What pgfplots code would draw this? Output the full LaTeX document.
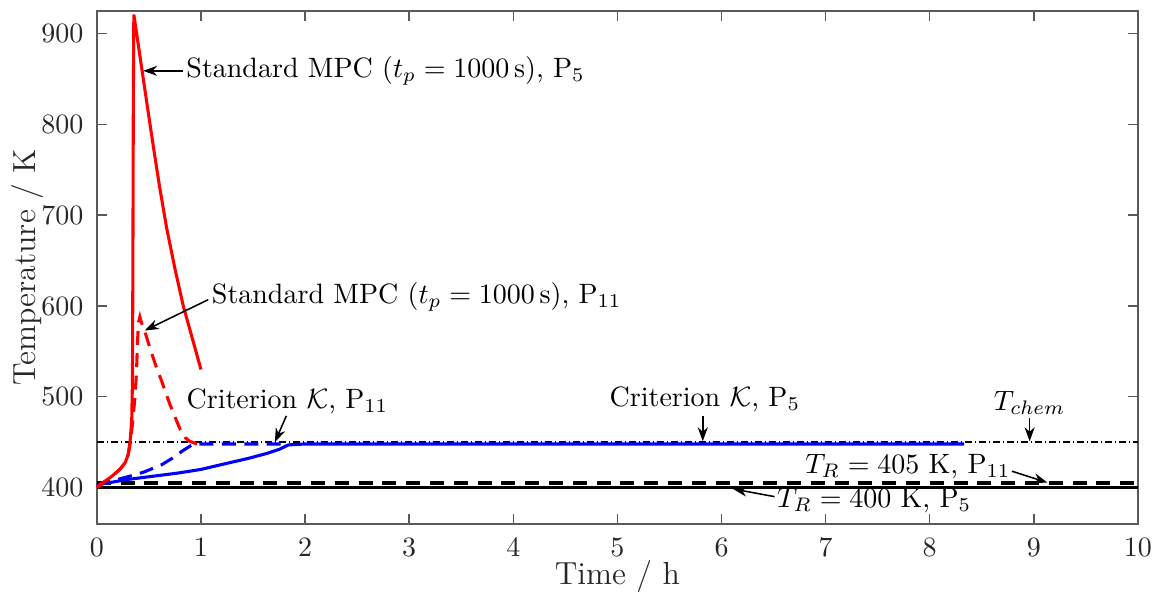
\documentclass[border=0pt]{standalone}
\usepackage{pgfplots}
\pgfplotsset{compat=1.18}
\usetikzlibrary{arrows.meta}

\tikzset{ann/.style={-{Stealth[length=5pt,width=3.6pt,inset=1.6pt]}, line width=0.55pt, black}}

\begin{document}
\begin{tikzpicture}
\begin{axis}[
  scale only axis,
  width=371.8pt, height=183.2pt,
  xmin=0, xmax=10, ymin=360, ymax=925,
  xtick={0,1,...,10},
  ytick={400,500,...,900},
  tick align=inside,
  major tick length=3.5pt,
  axis line style={black!65, line width=0.5pt},
  tick style={black!65, line width=0.5pt},
  tick label style={font=\fontsize{10.3}{12}\selectfont, text=black!85},
  xticklabel style={yshift=-1.5pt},
  yticklabel style={xshift=-1.3pt},
  xlabel={Time / h},
  ylabel={Temperature / K},
  every axis x label/.style={at={(axis description cs:0.5,-0.102)}, anchor=center,
      font=\fontsize{11.4}{13}\selectfont, text=black!85},
  every axis y label/.style={at={(axis description cs:-0.067,0.5)}, rotate=90, anchor=center,
      font=\fontsize{11.4}{13}\selectfont, text=black!85},
  clip=false,
]
%% reference temperatures
\addplot[black, line width=1.1pt] coordinates {(0,400) (10,400)};
\addplot[black, line width=1.1pt, dash pattern=on 5pt off 3.5pt] coordinates {(0,405) (10,405)};
\addplot[black, line width=0.5pt, dash pattern=on 2.5pt off 1pt on 0.5pt off 1pt] coordinates {(0,450) (10,450)};

%% criterion K, P11 (dashed) and P5 (solid)
\addplot[blue, line width=1.1pt, dash pattern=on 5pt off 3pt] coordinates {
  (0,402) (0.1,406) (0.3,412) (0.45,417) (0.62,425) (0.72,432) (0.83,441)
  (0.9,446) (0.95,448) (1.0,448) (1.85,448)};
\addplot[blue, line width=1.1pt] coordinates {
  (0,403) (0.3,409) (0.78,416) (1.0,420) (1.26,427) (1.45,432) (1.645,438)
  (1.75,442) (1.84,447) (2.0,448) (8.33,448)};

%% standard MPC, P11 (dashed)
\addplot[red, line width=1.1pt, dash pattern=on 5pt off 3pt] coordinates {
  (0,400) (0.04,404) (0.08,407) (0.15,413) (0.22,420) (0.27,427) (0.30,436)
  (0.32,448) (0.34,468) (0.36,492) (0.38,525) (0.39,560) (0.40,582) (0.413,588)
  (0.43,581) (0.46,572) (0.52,550) (0.573,532) (0.62,518) (0.70,492) (0.80,464)
  (0.85,455) (0.89,451) (0.95,448.5) (1.0,448)};
%% standard MPC, P5 (solid)
\addplot[red, line width=1.1pt] coordinates {
  (0,400) (0.04,404) (0.08,407) (0.15,413) (0.22,420) (0.27,427) (0.30,436)
  (0.32,452) (0.335,475) (0.342,520) (0.346,650) (0.35,820) (0.355,921)
  (0.40,886) (0.45,847) (0.50,808) (0.55,770) (0.60,733) (0.67,686) (0.75,641)
  (0.83,600) (0.92,563) (1.0,530)};

%% annotations
\draw[ann] (axis cs:0.83,859) -- (axis cs:0.445,859);
\node[anchor=west, inner sep=0pt] at (axis cs:0.855,859) {Standard MPC ($t_p = 1000\,$s), P$_5$};

\draw[ann] (axis cs:1.07,607) -- (axis cs:0.46,573);
\node[anchor=west, inner sep=0pt] at (axis cs:1.10,610) {Standard MPC ($t_p = 1000\,$s), P$_{11}$};

\node[inner sep=0pt] at (axis cs:1.83,495) {Criterion $\mathcal{K}$, P$_{11}$};
\draw[ann] (axis cs:1.82,479) -- (axis cs:1.71,450);

\node[inner sep=0pt] at (axis cs:5.84,497) {Criterion $\mathcal{K}$, P$_5$};
\draw[ann] (axis cs:5.82,479) -- (axis cs:5.82,451);

\node[inner sep=0pt] at (axis cs:8.96,493) {$T_{chem}$};
\draw[ann] (axis cs:8.96,477) -- (axis cs:8.96,451);

\node[anchor=east, inner sep=0pt] at (axis cs:8.78,423) {$T_R = 405$ K, P$_{11}$};
\draw[ann] (axis cs:8.79,418) -- (axis cs:9.13,405.5);

\node[anchor=west, inner sep=0pt] at (axis cs:6.53,386) {$T_R = 400$ K, P$_5$};
\draw[ann] (axis cs:6.51,390) -- (axis cs:6.11,398.5);
\end{axis}
\pgfresetboundingbox
\path ([shift={(-34.6pt,-27.5pt)}]current axis.south west) rectangle ([shift={(8.6pt,3.9pt)}]current axis.north east);
\end{tikzpicture}
\end{document}
